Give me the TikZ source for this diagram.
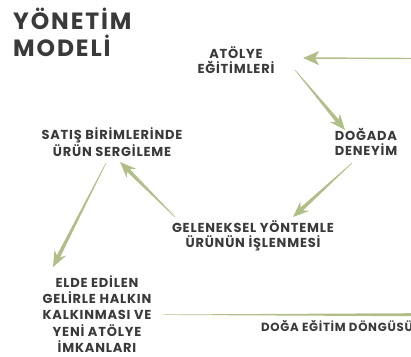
\documentclass[tikz,border=0pt]{standalone}
\usepackage{fontspec}
\setmainfont{Poppins}
\newfontfamily\labelfont{Poppins}[LetterSpace=6]
\newfontfamily\titlefont{Poppins}[LetterSpace=8]
\usetikzlibrary{arrows.meta,calc,positioning}
\definecolor{sage}{RGB}{178,190,138}
\definecolor{ink}{RGB}{58,58,58}
\tikzset{
  every picture/.style = {
    x = 1pt,
    y = -1pt,
  }
  ,
  title/.style = {
    font = \titlefont\bfseries\fontsize{23.5}{27.5}\selectfont,
    text = ink,
    align = left,
    inner sep = 0pt
  }
  , % labels of the cycle steps
  step-label/.style = {
    font = \labelfont\bfseries\fontsize{13}{14.5}\selectfont,
    text = ink,
    align = center,
    inner sep = 1pt
  }
  , % tapered arrows between steps
  flow/.style = {
    fill = sage,
    to path = {
      let \p1 = (\tikztostart), \p2 = (\tikztotarget),
          \n1 = {atan2(\y2-\y1,\x2-\x1)}
      in
      ($(\p1)+({\n1+90}:0.3pt)$)
      -- ($(\p2)+({\n1+180}:12pt)+({\n1+90}:1.9pt)$)
      -- ($(\p2)+({\n1+180}:16pt)+({\n1+90}:6.5pt)$)
      -- (\p2)
      -- ($(\p2)+({\n1+180}:16pt)+({\n1-90}:6.5pt)$)
      -- ($(\p2)+({\n1+180}:12pt)+({\n1-90}:1.9pt)$)
      -- ($(\p1)+({\n1-90}:0.3pt)$) -- cycle
    }
  }
  , % tapered rule without head
  taper/.style = {
    fill = sage,
    to path = {
      let \p1 = (\tikztostart), \p2 = (\tikztotarget),
          \n1 = {atan2(\y2-\y1,\x2-\x1)}
      in
      ($(\p1)+({\n1+90}:0.2pt)$) -- ($(\p2)+({\n1+90}:1.5pt)$)
      -- ($(\p2)+({\n1-90}:1.5pt)$) -- ($(\p1)+({\n1-90}:0.2pt)$) -- cycle
    }
  }
}
\begin{document}
\begin{tikzpicture}
\useasboundingbox (0,0) rectangle (411,356);
\clip (0,0) rectangle (411,356);

\node[title, anchor=north west] (model) at (13,7.5) {YÖNETİM\\MODELİ};

\node[step-label] at (236,60) (atolye) {ATÖLYE\\EĞİTİMLERİ};
\node[step-label] at (366,142) (dogada) {DOĞADA\\DENEYİM};
\node[step-label, font=\labelfont\bfseries\fontsize{13}{15.3}\selectfont] at (253,236) (geleneksel)
  {GELENEKSEL YÖNTEMLE\\ÜRÜNÜN İŞLENMESİ};
\node[step-label] at (112,142) (satis) {SATIŞ BİRİMLERİNDE\\ÜRÜN SERGİLEME};
\node[step-label, font=\labelfont\bfseries\fontsize{13}{16.3}\selectfont] at (97,314) (elde)
  {ELDE EDİLEN\\GELİRLE HALKIN\\KALKINMASI VE\\YENİ ATÖLYE\\İMKANLARI};
\node[step-label, font=\labelfont\bfseries\fontsize{11.8}{14}\selectfont, anchor=base west]
  at (260,331.5) (dongu) {DOĞA EĞİTİM DÖNGÜSÜ};

\coordinate (edgeT) at (412,58.5);
\coordinate (edgeB) at (412,314.7);

\draw[sage, line width=1.4pt, -{Stealth[length=16pt,width=14pt,inset=4pt]}]
  (edgeT) -- ([shift={(67,-2)}]atolye.center);
\fill[flow] ([shift={(59,10)}]atolye.center) to ([shift={(-21,-12)}]dogada.center);
\fill[flow] ([shift={(-14,21)}]dogada.center) to ([shift={(40,-19)}]geleneksel.center);
\fill[flow] ([shift={(-78,-19)}]geleneksel.center) to ([shift={(8,20)}]satis.center);
\fill[flow] ([shift={(-6,21)}]satis.center) to ([shift={(-44,-47)}]elde.center);
\fill[taper] ([shift={(66,0.7)}]elde.center) to (edgeB);
\end{tikzpicture}
\end{document}
